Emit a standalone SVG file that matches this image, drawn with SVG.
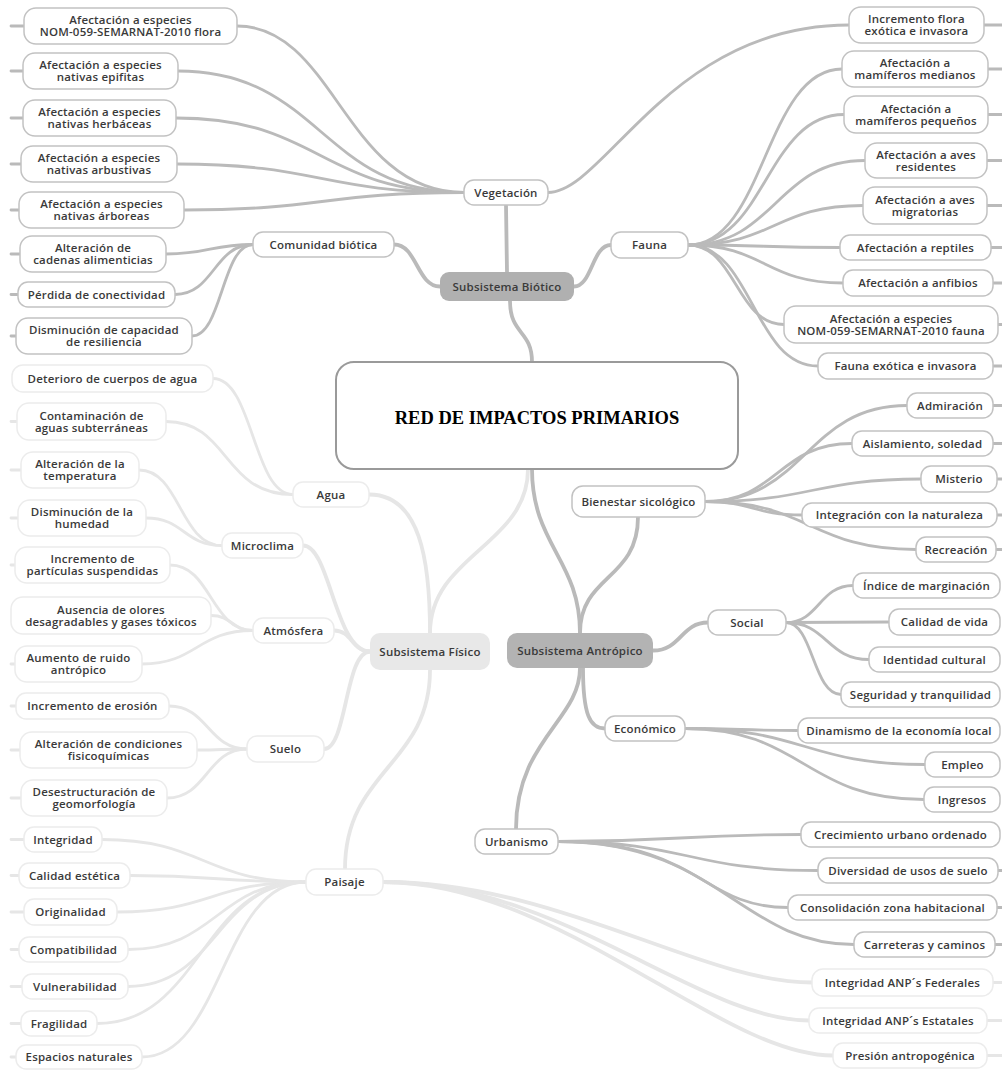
<svg xmlns="http://www.w3.org/2000/svg" width="1002" height="1070" viewBox="0 0 1002 1070">
<style>
text{font-family:"Open Sans","DejaVu Sans",sans-serif;font-size:11.5px;font-weight:600;letter-spacing:0.2px;fill:#3a3a3a;text-anchor:middle}
.n rect{fill:#fff;stroke:#c2c2c2;stroke-width:1.5}
.f rect{fill:#fff;stroke:#ececec;stroke-width:1.5}
.cd path{fill:none;stroke:#bababa;stroke-width:2.8;stroke-linecap:round}
.cl path{fill:none;stroke:#e6e6e6;stroke-width:2.8;stroke-linecap:round}
.thick{stroke-width:3.8 !important}
.title{font-family:"Liberation Serif","Times New Roman",serif;font-weight:bold;font-size:18.5px;letter-spacing:0;fill:#000}
</style>
<rect width="1002" height="1070" fill="#fff"/>
<g id="connectors">
<g class="cl">
<path class="thick" d="M528 469C528 545 430 555 430 633"/>
<path class="thick" d="M369 494.5C420 494.5 430 560 430 633"/>
<path class="thick" d="M303 545.5C330 545.5 335 651.5 370 651.5"/>
<path class="thick" d="M334 630.5C352 630.5 352 651.5 370 651.5"/>
<path class="thick" d="M324 749C347 749 345 651.5 370 651.5"/>
<path class="thick" d="M430 670C430 765 345 770 345 869"/>
<path d="M293 494.5C253 494.5 253 378.5 213 378.5"/>
<path d="M293 494.5C222 494.5 230 421.5 166 421.5"/>
<path d="M222 545.5C180 545.5 180 470 139 470"/>
<path d="M222 545.5C184 545.5 184 518 146 518"/>
<path d="M253 630.5C211 630.5 211 565 170 565"/>
<path d="M253 630.5C232 630.5 232 615.5 211 615.5"/>
<path d="M253 630.5C197 630.5 197 664 142 664"/>
<path d="M247 749C208 749 208 706 169 706"/>
<path d="M247 749C222 749 222 750 197 750"/>
<path d="M247 749C207 749 207 798 167 798"/>
<path d="M306 882C204 882 204 839.5 102 839.5"/>
<path d="M306 882C218 882 218 875.5 130 875.5"/>
<path d="M306 882C211 882 211 912 117 912"/>
<path d="M306 882C217 882 217 949.5 128 949.5"/>
<path d="M306 882C217 882 217 986.5 128 986.5"/>
<path d="M306 882C201 882 201 1023.5 97 1023.5"/>
<path d="M306 882C222 882 222 1057 142 1057"/>
<path class="thick" d="M383 882C560 882 700 982.5 812 982.5"/>
<path class="thick" d="M383 882C560 882 700 1020.5 809 1020.5"/>
<path class="thick" d="M383 882C560 882 720 1055.5 833 1055.5"/>
<path d="M11 421.5H17M11 470H21M11 518H18M11 565H15M11 664H15M11 706H16M11 750H20M11 798H21M11 839.5H24M11 875.5H19M11 912H24M11 949.5H19M11 986.5H22M11 1023.5H21M11 1057H16"/>
<path d="M993 982.5H1002M987 1020.5H1002M987 1055.5H1002"/>
</g>
<g class="cd">
<path class="thick" d="M507 272L506 205"/>
<path class="thick" d="M440 286.5C417 286.5 417 244.5 394 244.5"/>
<path class="thick" d="M574 286.5C592 286.5 592 245 611 245"/>
<path class="thick" d="M510 301C510 335 532 330 532 362"/>
<path d="M464 192.5C345 192.5 335 26 237 26"/>
<path d="M464 192.5C321 192.5 321 71 178 71"/>
<path d="M464 192.5C320 192.5 320 118 176 118"/>
<path d="M464 192.5C320 192.5 320 164 177 164"/>
<path d="M464 192.5C324 192.5 324 210 184 210"/>
<path d="M548 192.5C605 192.5 670 25 849 25"/>
<path d="M253 244.5C210 244.5 210 254 166 254"/>
<path d="M253 244.5C214 244.5 214 294.5 175 294.5"/>
<path d="M253 244.5C222 244.5 222 336 192 336"/>
<path d="M688 245C765 245 765 69 842 69"/>
<path d="M688 245C766 245 766 114.5 844 114.5"/>
<path d="M688 245C776 245 776 160.5 865 160.5"/>
<path d="M688 245C775 245 775 205.5 863 205.5"/>
<path d="M688 245C764 245 764 247.5 840 247.5"/>
<path d="M688 245C765 245 765 283 843 283"/>
<path d="M688 245C736 245 736 324.5 784 324.5"/>
<path d="M688 245C753 245 753 366 818 366"/>
<path class="thick" d="M532 469C532 545 580 560 580 633"/>
<path class="thick" d="M638 517C638 580 580 575 580 633"/>
<path class="thick" d="M653 650.5C681 650.5 681 622.5 708 622.5"/>
<path class="thick" d="M583 668C583 715 590 728.5 605 728.5"/>
<path class="thick" d="M580 668C580 720 516 740 516 829"/>
<path d="M705 501.5C806 501.5 806 405.5 907 405.5"/>
<path d="M705 501.5C778 501.5 778 443.5 852 443.5"/>
<path d="M705 501.5C813 501.5 813 479 921 479"/>
<path d="M705 501.5C753 501.5 753 515 802 515"/>
<path d="M705 501.5C810 501.5 810 549.5 916 549.5"/>
<path d="M786 622.5C819 622.5 819 585.5 853 585.5"/>
<path d="M786 622.5C837 622.5 837 622 889 622"/>
<path d="M786 622.5C827 622.5 827 659.5 869 659.5"/>
<path d="M786 622.5C813 622.5 813 694.5 841 694.5"/>
<path d="M685 728.5C741 728.5 741 730.5 798 730.5"/>
<path d="M685 728.5C805 728.5 805 764.5 925 764.5"/>
<path d="M685 728.5C804 728.5 804 799.5 924 799.5"/>
<path d="M558 841.5C680 841.5 680 834.5 801 834.5"/>
<path d="M558 841.5C688 841.5 688 870.5 818 870.5"/>
<path d="M558 841.5C700 841.5 700 907.5 788 907.5"/>
<path d="M558 841.5C720 841.5 740 944.5 854 944.5"/>
<path d="M11 26H24M11 71H23M11 118H23M11 164H21M11 210H19M11 254H20M11 294.5H18M11 336H16"/>
<path d="M984 25H1002M988 69H1002M988 114.5H1002M987 160.5H1002M987 205.5H1002M991 247.5H1002M993 283H1002M998 324.5H1002M993 366H1002"/>
<path d="M993 405.5H1002M993 443.5H1002M997 479H1002M997 515H1002M996 549.5H1002M998 870.5H1002M997 907.5H1002M995 944.5H1002"/>
</g>
</g>

<g id="center">
<rect x="336" y="362" width="402" height="107" rx="18" fill="#fff" stroke="#9a9a9a" stroke-width="2"/>
<text class="title" x="537" y="424">RED DE IMPACTOS PRIMARIOS</text>
</g>

<g id="hub-biotico"><rect x="440" y="272" width="134" height="29" rx="9" fill="#b0b0b0"/><text x="507" y="290.5">Subsistema Biótico</text></g>
<g id="hub-fisico"><rect x="370" y="633" width="120" height="37" rx="10" fill="#e8e8e8"/><text x="430" y="655.5">Subsistema Físico</text></g>
<g id="hub-antropico"><rect x="507" y="633" width="146" height="35" rx="10" fill="#b3b3b3"/><text x="580" y="654.5">Subsistema Antrópico</text></g>

<g class="n">
<g id="vegetacion"><rect x="464" y="180" width="84" height="25" rx="10"/><text x="506" y="196.5">Vegetación</text></g>
<g id="comunidad"><rect x="253" y="232" width="141" height="25" rx="10"/><text x="323.5" y="248.5">Comunidad biótica</text></g>
<g id="fauna"><rect x="611" y="232" width="77" height="26" rx="10"/><text x="649.5" y="249">Fauna</text></g>
<g id="bienestar"><rect x="572" y="486" width="133" height="31" rx="11"/><text x="638.5" y="505.5">Bienestar sicológico</text></g>
<g id="social"><rect x="708" y="610" width="78" height="25" rx="10"/><text x="747" y="626.5">Social</text></g>
<g id="economico"><rect x="605" y="716" width="80" height="25" rx="10"/><text x="645" y="732.5">Económico</text></g>
<g id="urbanismo"><rect x="475" y="829" width="83" height="25" rx="10"/><text x="516.5" y="845.5">Urbanismo</text></g>

<g id="v-flora"><rect x="24" y="8" width="213" height="36" rx="12"/><text x="130.5" y="24">Afectación a especies<tspan x="130.5" dy="12">NOM-059-SEMARNAT-2010 flora</tspan></text></g>
<g id="v-epifitas"><rect x="23" y="53" width="155" height="36" rx="12"/><text x="100.5" y="69">Afectación a especies<tspan x="100.5" dy="12">nativas epifitas</tspan></text></g>
<g id="v-herbaceas"><rect x="23" y="100" width="153" height="36" rx="12"/><text x="99.5" y="116">Afectación a especies<tspan x="99.5" dy="12">nativas herbáceas</tspan></text></g>
<g id="v-arbustivas"><rect x="21" y="146" width="156" height="36" rx="12"/><text x="99" y="162">Afectación a especies<tspan x="99" dy="12">nativas arbustivas</tspan></text></g>
<g id="v-arboreas"><rect x="19" y="192" width="165" height="36" rx="12"/><text x="101.5" y="208">Afectación a especies<tspan x="101.5" dy="12">nativas árboreas</tspan></text></g>
<g id="c-cadenas"><rect x="20" y="236" width="146" height="36" rx="12"/><text x="93" y="252">Alteración de<tspan x="93" dy="12">cadenas alimenticias</tspan></text></g>
<g id="c-conectividad"><rect x="18" y="282" width="157" height="25" rx="10"/><text x="96.5" y="298.5">Pérdida de conectividad</text></g>
<g id="c-resiliencia"><rect x="16" y="318" width="176" height="36" rx="12"/><text x="104" y="334">Disminución de capacidad<tspan x="104" dy="12">de resiliencia</tspan></text></g>

<g id="v-incremento-flora"><rect x="849" y="7" width="135" height="36" rx="12"/><text x="916.5" y="23">Incremento flora<tspan x="916.5" dy="12">exótica e invasora</tspan></text></g>
<g id="f-medianos"><rect x="842" y="51" width="146" height="36" rx="12"/><text x="915" y="67">Afectación a<tspan x="915" dy="12">mamíferos medianos</tspan></text></g>
<g id="f-pequenos"><rect x="844" y="96" width="144" height="37" rx="12"/><text x="916" y="112.5">Afectación a<tspan x="916" dy="12">mamíferos pequeños</tspan></text></g>
<g id="f-residentes"><rect x="865" y="143" width="122" height="35" rx="12"/><text x="926" y="158.5">Afectación a aves<tspan x="926" dy="12">residentes</tspan></text></g>
<g id="f-migratorias"><rect x="863" y="187" width="124" height="37" rx="12"/><text x="925" y="203.5">Afectación a aves<tspan x="925" dy="12">migratorias</tspan></text></g>
<g id="f-reptiles"><rect x="840" y="235" width="151" height="25" rx="10"/><text x="915.5" y="251.5">Afectación a reptiles</text></g>
<g id="f-anfibios"><rect x="843" y="270" width="150" height="26" rx="10"/><text x="918" y="287">Afectación a anfibios</text></g>
<g id="f-nom"><rect x="784" y="306" width="214" height="37" rx="12"/><text x="891" y="322.5">Afectación a especies<tspan x="891" dy="12">NOM-059-SEMARNAT-2010 fauna</tspan></text></g>
<g id="f-exotica"><rect x="818" y="353" width="175" height="26" rx="10"/><text x="905.5" y="370">Fauna exótica e invasora</text></g>

<g id="b-admiracion"><rect x="907" y="393" width="86" height="25" rx="10"/><text x="950" y="409.5">Admiración</text></g>
<g id="b-aislamiento"><rect x="852" y="431" width="141" height="25" rx="10"/><text x="922.5" y="447.5">Aislamiento, soledad</text></g>
<g id="b-misterio"><rect x="921" y="466" width="76" height="26" rx="10"/><text x="959" y="483">Misterio</text></g>
<g id="b-integracion"><rect x="802" y="503" width="195" height="24" rx="10"/><text x="899.5" y="519">Integración con la naturaleza</text></g>
<g id="b-recreacion"><rect x="916" y="537" width="80" height="25" rx="10"/><text x="956" y="553.5">Recreación</text></g>
<g id="s-indice"><rect x="853" y="573" width="147" height="25" rx="10"/><text x="926.5" y="589.5">Índice de marginación</text></g>
<g id="s-calidad"><rect x="889" y="609" width="111" height="26" rx="10"/><text x="944.5" y="626">Calidad de vida</text></g>
<g id="s-identidad"><rect x="869" y="647" width="131" height="25" rx="10"/><text x="934.5" y="663.5">Identidad cultural</text></g>
<g id="s-seguridad"><rect x="841" y="682" width="159" height="25" rx="10"/><text x="920.5" y="698.5">Seguridad y tranquilidad</text></g>
<g id="e-dinamismo"><rect x="798" y="718" width="202" height="25" rx="10"/><text x="899" y="734.5">Dinamismo de la economía local</text></g>
<g id="e-empleo"><rect x="925" y="752" width="75" height="25" rx="10"/><text x="962.5" y="768.5">Empleo</text></g>
<g id="e-ingresos"><rect x="924" y="787" width="76" height="25" rx="10"/><text x="962" y="803.5">Ingresos</text></g>
<g id="u-crecimiento"><rect x="801" y="822" width="199" height="25" rx="10"/><text x="900.5" y="838.5">Crecimiento urbano ordenado</text></g>
<g id="u-diversidad"><rect x="818" y="858" width="180" height="25" rx="10"/><text x="908" y="874.5">Diversidad de usos de suelo</text></g>
<g id="u-consolidacion"><rect x="788" y="895" width="209" height="25" rx="10"/><text x="892.5" y="911.5">Consolidación zona habitacional</text></g>
<g id="u-carreteras"><rect x="854" y="932" width="141" height="25" rx="10"/><text x="924.5" y="948.5">Carreteras y caminos</text></g>
</g>

<g class="f">
<g id="agua"><rect x="293" y="482" width="76" height="25" rx="10"/><text x="331" y="498.5">Agua</text></g>
<g id="microclima"><rect x="222" y="533" width="81" height="25" rx="10"/><text x="262.5" y="549.5">Microclima</text></g>
<g id="atmosfera"><rect x="253" y="618" width="81" height="25" rx="10"/><text x="293.5" y="634.5">Atmósfera</text></g>
<g id="suelo"><rect x="247" y="736" width="77" height="26" rx="10"/><text x="285.5" y="753">Suelo</text></g>
<g id="paisaje"><rect x="306" y="869" width="77" height="26" rx="10"/><text x="344.5" y="886">Paisaje</text></g>

<g id="a-deterioro"><rect x="12" y="365" width="201" height="27" rx="11"/><text x="112.5" y="382.5">Deterioro de cuerpos de agua</text></g>
<g id="a-contaminacion"><rect x="17" y="403" width="149" height="37" rx="12"/><text x="91.5" y="420">Contaminación de<tspan x="91.5" dy="12">aguas subterráneas</tspan></text></g>
<g id="m-temperatura"><rect x="21" y="452" width="118" height="36" rx="12"/><text x="80" y="468">Alteración de la<tspan x="80" dy="12">temperatura</tspan></text></g>
<g id="m-humedad"><rect x="18" y="500" width="128" height="36" rx="12"/><text x="82" y="516">Disminución de la<tspan x="82" dy="12">humedad</tspan></text></g>
<g id="at-particulas"><rect x="15" y="547" width="155" height="36" rx="12"/><text x="92.5" y="563">Incremento de<tspan x="92.5" dy="12">partículas suspendidas</tspan></text></g>
<g id="at-olores"><rect x="11" y="597" width="200" height="37" rx="12"/><text x="111" y="613.5">Ausencia de olores<tspan x="111" dy="12">desagradables y gases tóxicos</tspan></text></g>
<g id="at-ruido"><rect x="15" y="646" width="127" height="36" rx="12"/><text x="78.5" y="662">Aumento de ruido<tspan x="78.5" dy="12">antrópico</tspan></text></g>
<g id="su-erosion"><rect x="16" y="693" width="153" height="26" rx="10"/><text x="92.5" y="710">Incremento de erosión</text></g>
<g id="su-condiciones"><rect x="20" y="732" width="177" height="36" rx="12"/><text x="108.5" y="748">Alteración de condiciones<tspan x="108.5" dy="12">fisicoquímicas</tspan></text></g>
<g id="su-geomorfologia"><rect x="21" y="780" width="146" height="36" rx="12"/><text x="94" y="796">Desestructuración de<tspan x="94" dy="12">geomorfología</tspan></text></g>
<g id="p-integridad"><rect x="24" y="827" width="78" height="25" rx="10"/><text x="63" y="843.5">Integridad</text></g>
<g id="p-calidad"><rect x="19" y="863" width="111" height="25" rx="10"/><text x="74.5" y="879.5">Calidad estética</text></g>
<g id="p-originalidad"><rect x="24" y="899" width="93" height="26" rx="10"/><text x="70.5" y="916">Originalidad</text></g>
<g id="p-compatibilidad"><rect x="19" y="937" width="109" height="25" rx="10"/><text x="73.5" y="953.5">Compatibilidad</text></g>
<g id="p-vulnerabilidad"><rect x="22" y="974" width="106" height="25" rx="10"/><text x="75" y="990.5">Vulnerabilidad</text></g>
<g id="p-fragilidad"><rect x="21" y="1011" width="76" height="25" rx="10"/><text x="59" y="1027.5">Fragilidad</text></g>
<g id="p-espacios"><rect x="16" y="1045" width="126" height="24" rx="10"/><text x="79" y="1061">Espacios naturales</text></g>
<g id="p-federales"><rect x="812" y="969" width="181" height="27" rx="11"/><text x="902.5" y="986.5">Integridad ANP´s Federales</text></g>
<g id="p-estatales"><rect x="809" y="1008" width="178" height="25" rx="10"/><text x="898" y="1024.5">Integridad ANP´s Estatales</text></g>
<g id="p-presion"><rect x="833" y="1043" width="154" height="25" rx="10"/><text x="910" y="1059.5">Presión antropogénica</text></g>
</g>
</svg>
